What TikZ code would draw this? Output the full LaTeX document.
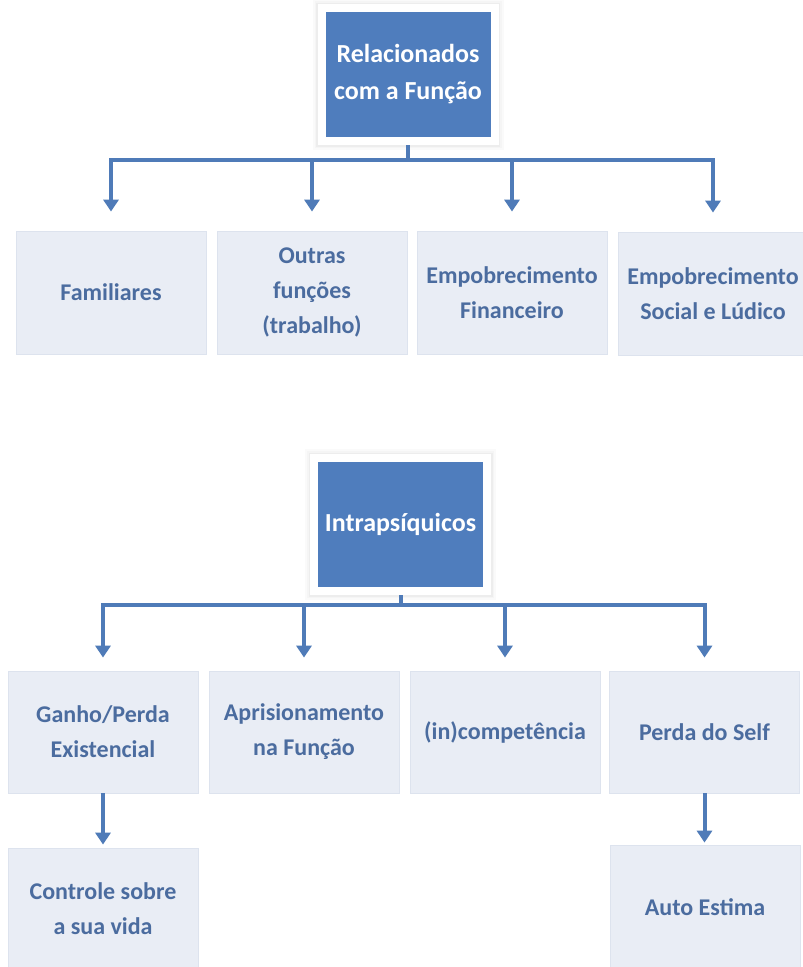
\documentclass[tikz,border=0pt]{standalone}
\usepackage{fontspec}
\setmainfont{Carlito}
\usetikzlibrary{arrows.meta}
\definecolor{headblue}{HTML}{4F7DBD}
\definecolor{arrowblue}{HTML}{4F7BB8}
\definecolor{leaffill}{HTML}{E9EDF5}
\definecolor{leafdraw}{HTML}{DDE3EE}
\definecolor{leaftext}{HTML}{4B6C9F}
\tikzset{
  leaf/.style={rectangle, fill=leaffill, draw=leafdraw, line width=0.8pt,
    minimum width=190pt, minimum height=123pt, text width=186pt, align=flush center,
    inner sep=0pt, text=leaftext, font=\bfseries\fontsize{24}{35}\selectfont},
  head/.style={rectangle, fill=headblue, draw=white, line width=8pt,
    minimum width=173pt, minimum height=133pt, text width=165pt, align=flush center,
    inner sep=0pt, text=white, font=\bfseries\fontsize{26}{37}\selectfont,
    preaction={draw=black!2, line width=18pt},
    preaction={draw=black!4, line width=14pt},
    preaction={draw=black!7, line width=11pt}},
  arr/.style={draw=arrowblue, line width=4pt, line join=miter,
    -{Triangle[width=15pt,length=12pt]}}
}
\begin{document}
\begin{tikzpicture}[x=1pt,y=-1pt]
\clip (0,0) rectangle (803,967);
\fill[white] (0,0) rectangle (803,967);
% top group
\node[head] (h1) at (408,74.5) {Relacionados\\com a Função};
\coordinate (bus1) at (0,160);
\node[leaf] (a1) at (111,292.5) {Familiares};
\node[leaf] (a2) at (312,292.5) {Outras\\funções\\(trabalho)};
\node[leaf] (a3) at (512,292.5) {Empobrecimento\\Financeiro};
\node[leaf] (a4) at (713,293.5) {Empobrecimento\\Social e Lúdico};
\foreach \c in {a1,a2,a3,a4}
  \draw[arr, shorten >=19pt] (h1.south) -- (h1.south |- bus1) -| (\c.north);
% bottom group
\node[head] (h2) at (400.5,524.5) {Intrapsíquicos};
\coordinate (bus2) at (0,605);
\node[leaf, minimum height=122pt] (b1) at (103,732) {Ganho/Perda\\Existencial};
\node[leaf, minimum height=122pt] (b2) at (304,732) {Aprisionamento\\na Função};
\node[leaf, minimum height=122pt] (b3) at (505,732) {(in)competência};
\node[leaf, minimum height=122pt] (b4) at (704.5,732) {Perda do Self};
\foreach \c in {b1,b2,b3,b4}
  \draw[arr, shorten >=13pt] (h2.south) -- (h2.south |- bus2) -| (\c.north);
\node[leaf, minimum height=122pt] (c1) at (103,909) {Controle sobre\\a sua vida};
\node[leaf, minimum height=124pt] (c2) at (705,907) {Auto Estima};
\draw[arr, shorten >=3pt] (b1.south) -- (c1.north);
\draw[arr, shorten >=2pt] (b4.south) -- (b4.south |- c2.north);
\end{tikzpicture}
\end{document}
